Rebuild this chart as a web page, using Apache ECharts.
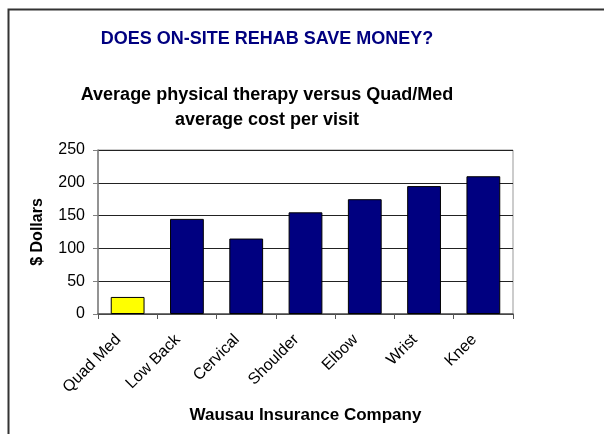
<!DOCTYPE html>
<html>
<head>
<meta charset="utf-8">
<script src="https://cdn.jsdelivr.net/npm/echarts@6/dist/echarts.min.js"></script>
<style>
  html, body { margin: 0; padding: 0; background: #fff; }
  #chart { width: 604px; height: 434px; }
</style>
</head>
<body>
<div id="chart"></div>
<script>
// Average PT cost per visit vs Quad/Med
const CATEGORIES = ['Quad Med', 'Low Back', 'Cervical', 'Shoulder', 'Elbow', 'Wrist', 'Knee'];
const COST = [26, 145, 115, 155, 175, 195, 210];
const Y_TICKS = [0, 50, 100, 150, 200, 250];

const FONT = '"Liberation Sans", Arial, sans-serif';
const NAVY = '#000080';
const YELLOW = '#ffff00';

const chart = echarts.init(document.getElementById('chart'), null, { renderer: 'canvas' });

chart.setOption({
  animation: false,
  backgroundColor: '#fff',
  textStyle: { fontFamily: FONT },
  title: [
    { text: 'DOES ON-SITE REHAB SAVE MONEY?', left: 262, top: 25, textAlign: 'center',
      textStyle: { color: NAVY, fontSize: 18, fontWeight: 'bold', fontFamily: FONT } },
    { text: 'Average physical therapy versus Quad/Med\naverage cost per visit', left: 262, top: 78,
      textAlign: 'center',
      textStyle: { color: '#000', fontSize: 18, fontWeight: 'bold', lineHeight: 25, fontFamily: FONT } },
  ],
  graphic: [{
    type: 'rect', left: 6, top: 7, silent: true,
    shape: { width: 620, height: 450 },
    style: { fill: 'none', stroke: '#333', lineWidth: 2 },
  }],
  grid: { left: 98, right: 91, top: 150, bottom: 120,
    show: true, borderColor: '#999', borderWidth: 1 },
  xAxis: {
    type: 'category', data: CATEGORIES,
    name: 'Wausau Insurance Company', nameLocation: 'middle', nameGap: 93,
    nameTextStyle: { fontSize: 17, fontWeight: 'bold', color: '#000', fontFamily: FONT },
    axisLine: { lineStyle: { color: '#555', width: 1.5 } },
    axisTick: { show: true, length: 5, lineStyle: { color: '#555' } },
    axisLabel: { rotate: 45, fontSize: 16, color: '#000', margin: 14, interval: 0,
      padding: [0, 13, 0, 0], fontFamily: FONT },
  },
  yAxis: {
    type: 'value', min: 0, max: 250, interval: 50,
    name: '$ Dollars', nameLocation: 'middle', nameGap: 52,
    nameTextStyle: { fontSize: 16, fontWeight: 'bold', color: '#000', fontFamily: FONT },
    axisLine: { show: true, lineStyle: { color: '#808080', width: 1.5 } },
    axisTick: { show: true, length: 5, lineStyle: { color: '#808080' } },
    axisLabel: { fontSize: 16, color: '#000', margin: 13, fontFamily: FONT,
      formatter: v => (Y_TICKS.includes(v) ? String(v) : '') },
    splitLine: { lineStyle: { color: '#222', width: 1 } },
  },
  series: [{
    type: 'bar', data: COST, barCategoryGap: '43%',
    itemStyle: {
      color: p => (p.dataIndex === 0 ? YELLOW : NAVY),
      borderColor: '#000', borderWidth: 1,
    },
  }],
});
</script>
</body>
</html>
